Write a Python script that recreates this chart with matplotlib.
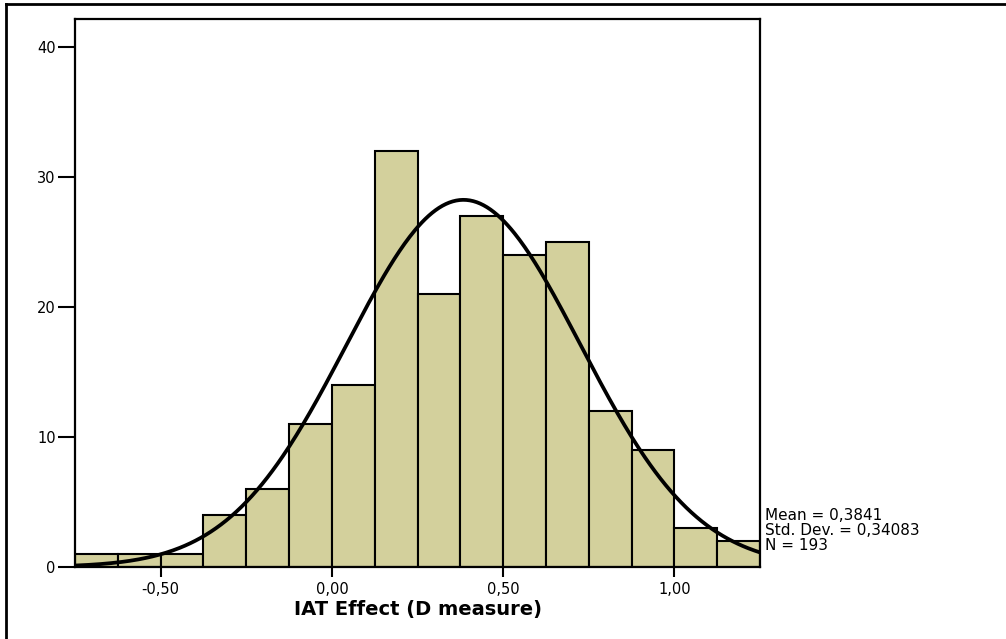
import numpy as np
import matplotlib
matplotlib.use('Agg')
import matplotlib.pyplot as plt
from matplotlib.lines import Line2D

# histogram data
bin_edges = [-0.75, -0.625, -0.5, -0.375, -0.25, -0.125, 0.0, 0.125, 0.25,
             0.375, 0.5, 0.625, 0.75, 0.875, 1.0, 1.125, 1.25]
counts = [1, 1, 1, 4, 6, 11, 14, 32, 21, 27, 24, 25, 12, 9, 3, 2]
mean = 0.3841
std = 0.34083
n = 193

x_ticks = [-0.5, 0.0, 0.5, 1.0]
x_ticklabels = ['-0,50', '0,00', '0,50', '1,00']
y_ticks = [0, 10, 20, 30, 40]

plt.rcParams['font.family'] = ['DejaVu Sans']

fig = plt.figure(figsize=(10.06, 6.39), dpi=100)
ax = fig.add_axes([0.0746, 0.1127, 0.6809, 0.8576])

lefts = np.array(bin_edges[:-1])
widths = np.diff(bin_edges)
ax.bar(lefts, counts, width=widths, align='edge', color='#d3d09c',
       edgecolor='black', linewidth=1.5, zorder=2)

# normal curve scaled to counts
xs = np.linspace(bin_edges[0], bin_edges[-1], 400)
bw = widths[0]
ys = n * bw / (std * np.sqrt(2 * np.pi)) * np.exp(-0.5 * ((xs - mean) / std) ** 2)
ax.plot(xs, ys, color='black', linewidth=2.7, zorder=3)

ax.set_xlim(bin_edges[0], bin_edges[-1])
ax.set_ylim(0, 42.15)
ax.set_xticks(x_ticks)
ax.set_xticklabels(x_ticklabels)
ax.set_yticks(y_ticks)
ax.tick_params(axis='both', direction='out', width=1.5, labelsize=10.5, colors='black')
ax.tick_params(axis='y', length=12, pad=2)
ax.tick_params(axis='x', length=7, pad=4)
for s in ax.spines.values():
    s.set_linewidth(1.6)

ax.set_xlabel('IAT Effect (D measure)', fontsize=14, fontweight='bold', labelpad=2)

stats = 'Mean = %s\nStd. Dev. = %s\nN = %d' % (str(mean).replace('.', ','),
                                                str(std).replace('.', ','), n)
fig.text(765 / 1006, 1 - 508 / 639, stats, fontsize=11, va='top', ha='left',
         linespacing=1.02)

# outer frame of the page
fig.add_artist(Line2D([6 / 1006, 6 / 1006], [0, 1 - 4 / 639], color='black',
                      linewidth=2, transform=fig.transFigure))
fig.add_artist(Line2D([6 / 1006, 1], [1 - 4 / 639, 1 - 4 / 639], color='black',
                      linewidth=2, transform=fig.transFigure))

fig.savefig('out.png', dpi=100)
